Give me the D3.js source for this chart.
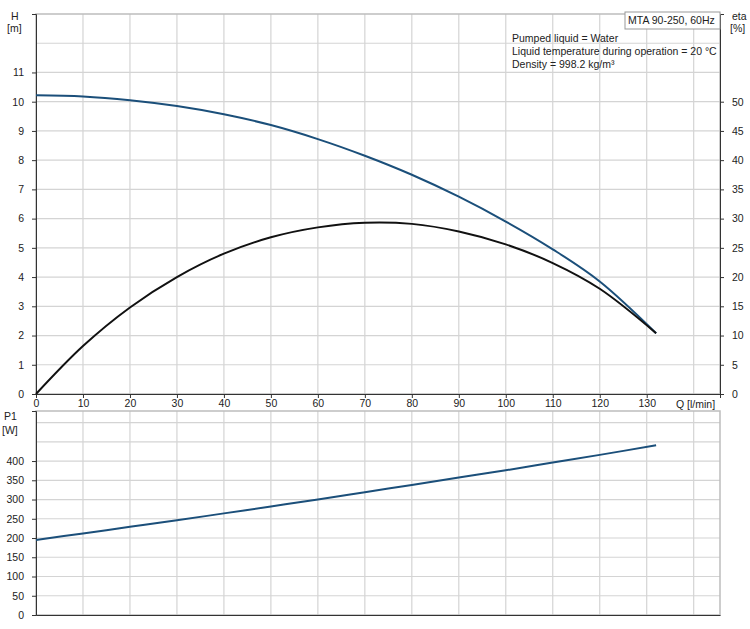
<!DOCTYPE html>
<html>
<head>
<meta charset="UTF-8">
<script src="https://d3js.org/d3.v7.min.js"></script>
<style>
body { margin: 0; background: #fff; font-family: "Liberation Sans", Arial, sans-serif; }
text { font-size: 10.5px; fill: #222; }
.grid line { stroke: #d4d4d4; stroke-width: 1.2; }
</style>
</head>
<body>
<div id="chart"></div>
<script>
// flow in l/min
const q = [0, 10, 20, 30, 40, 50, 60, 70, 80, 90, 100, 110, 120, 132];
// head [m]
const head = [10.22, 10.18, 10.05, 9.85, 9.57, 9.2, 8.72, 8.15, 7.5, 6.75, 5.9, 4.95, 3.85, 2.08];
// efficiency [%]
const eta = [0, 8.2, 14.8, 20, 24, 26.8, 28.5, 29.3, 29.1, 27.8, 25.6, 22.4, 18, 10.4];
// power P1 [W]
const p1 = [195, 212, 229, 246, 264, 282, 300, 319, 338, 357, 376, 396, 416, 441];

const qTicks = d3.range(0, 140, 10);
const hTicks = d3.range(0, 12, 1);
const etaTicks = d3.range(0, 55, 5);
const pTicks = d3.range(0, 450, 50);
const infoLines = ["Pumped liquid = Water", "Liquid temperature during operation = 20 °C", "Density = 998.2 kg/m³"];
const title = "MTA 90-250, 60Hz";

const W = 750, Hh = 629;
const left = 36, right = 720;
const svg = d3.select('#chart').append('svg').attr('width', W).attr('height', Hh);

const x = d3.scaleLinear().domain([0, 145.6]).range([left, right]);
const yH = d3.scaleLinear().domain([0, 13]).range([394, 14]);
const yE = d3.scaleLinear().domain([0, 65]).range([394, 14]);
const yP = d3.scaleLinear().domain([0, 530]).range([615, 411]);

function panel(y, top, bottom, gridVals) {
  const g = svg.append('g').attr('class', 'grid');
  g.selectAll('.v').data(d3.range(10, 150, 10)).enter().append('line')
    .attr('x1', d => x(d)).attr('x2', d => x(d)).attr('y1', top).attr('y2', bottom);
  g.selectAll('.h').data(gridVals).enter().append('line')
    .attr('x1', left).attr('x2', right).attr('y1', d => y(d)).attr('y2', d => y(d));
  svg.append('rect').attr('x', left).attr('y', top).attr('width', right - left).attr('height', bottom - top)
    .attr('fill', 'none').attr('stroke', '#bdbdbd').attr('stroke-width', 1.5);
}
panel(yH, 14, 394, d3.range(1, 13));
panel(yP, 411, 615, d3.range(50, 550, 50));

// axes
function styleAxis(g) {
  g.select('.domain').attr('stroke', '#333');
  g.selectAll('.tick line').attr('stroke', '#333');
  g.selectAll('text').style('font-size', '10.5px').attr('fill', '#222');
}
svg.append('g').attr('transform', `translate(${left},0)`)
  .call(d3.axisLeft(yH).tickValues(hTicks).tickSize(4).tickPadding(8)).call(styleAxis);
svg.append('g').attr('transform', `translate(${right},0)`)
  .call(d3.axisRight(yE).tickValues(etaTicks).tickSize(4).tickPadding(8)).call(styleAxis);
svg.append('g').attr('transform', `translate(0,394)`)
  .call(d3.axisBottom(x).tickValues(qTicks).tickSize(4).tickPadding(2)).call(styleAxis);
svg.append('g').attr('transform', `translate(${left},0)`)
  .call(d3.axisLeft(yP).tickValues(pTicks).tickSize(4).tickPadding(8)).call(styleAxis);
svg.append('g').attr('transform', `translate(0,615)`)
  .call(d3.axisBottom(x).tickValues([]).tickSize(0)).call(styleAxis);

// axis titles
svg.append('text').attr('x', 11).attr('y', 20).text('H');
svg.append('text').attr('x', 7).attr('y', 32).text('[m]');
svg.append('text').attr('x', 732).attr('y', 20).text('eta');
svg.append('text').attr('x', 730).attr('y', 32).text('[%]');
svg.append('text').attr('x', 676).attr('y', 408).text('Q [l/min]');
svg.append('text').attr('x', 4).attr('y', 420).text('P1');
svg.append('text').attr('x', 2).attr('y', 434).text('[W]');

// info text
svg.selectAll('.info').data(infoLines).enter().append('text')
  .attr('x', 512).attr('y', (d, i) => 42 + i * 13).text(d => d);
svg.append('rect').attr('x', 625).attr('y', 12).attr('width', 95).attr('height', 17)
  .attr('fill', '#fff').attr('stroke', '#999');
svg.append('text').attr('x', 628).attr('y', 24).text(title);

// curves
const curve = d3.curveCatmullRom;
svg.append('path').datum(q.map((d, i) => [d, head[i]]))
  .attr('d', d3.line().x(d => x(d[0])).y(d => yH(d[1])).curve(curve))
  .attr('fill', 'none').attr('stroke', '#1b4f7a').attr('stroke-width', 2);
svg.append('path').datum(q.map((d, i) => [d, eta[i]]))
  .attr('d', d3.line().x(d => x(d[0])).y(d => yE(d[1])).curve(curve))
  .attr('fill', 'none').attr('stroke', '#111').attr('stroke-width', 2);
svg.append('path').datum(q.map((d, i) => [d, p1[i]]))
  .attr('d', d3.line().x(d => x(d[0])).y(d => yP(d[1])).curve(curve))
  .attr('fill', 'none').attr('stroke', '#1b4f7a').attr('stroke-width', 2);
</script>
</body>
</html>
